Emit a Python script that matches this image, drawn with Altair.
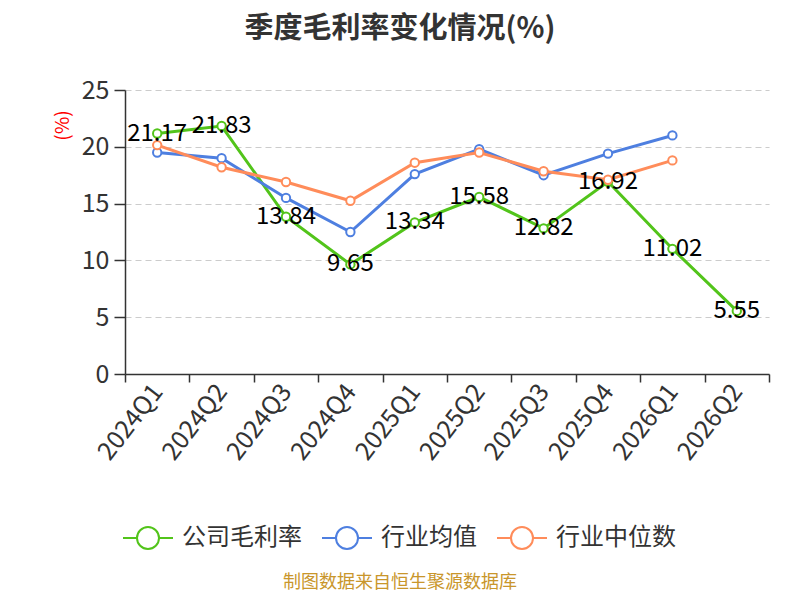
import altair as alt
import pandas as pd

quarters = ["2024Q1", "2024Q2", "2024Q3", "2024Q4", "2025Q1", "2025Q2",
            "2025Q3", "2025Q4", "2026Q1", "2026Q2"]
company = [21.17, 21.83, 13.84, 9.65, 13.34, 15.58, 12.82, 16.92, 11.02, 5.55]
ind_mean = [19.5, 19.0, 15.5, 12.5, 17.6, 19.8, 17.5, 19.4, 21.0]
ind_median = [20.15, 18.2, 16.9, 15.25, 18.6, 19.5, 17.85, 17.1, 18.8]
series_names = ["公司毛利率", "行业均值", "行业中位数"]
colors = ["#52C41A", "#4E7FE0", "#FF8C5A"]
title_text = "季度毛利率变化情况(%)"
footer_text = "制图数据来自恒生聚源数据库"

rows = []
for name, vals in zip(series_names, [company, ind_mean, ind_median]):
    for q, v in zip(quarters, vals):
        rows.append({"quarter": q, "value": v, "series": name})
df = pd.DataFrame(rows)
df_company = pd.DataFrame({"quarter": quarters, "value": company,
                           "label": [f"{v:.2f}" for v in company]})

FONT = "Noto Sans CJK SC"

x_enc = alt.X("quarter:N", sort=quarters,
              scale=alt.Scale(type="band", paddingInner=0, paddingOuter=0),
              axis=alt.Axis(title=None, tickBand="extent", labelAngle=-52,
                            labelAlign="right", labelBaseline="middle",
                            labelFontSize=25, labelColor="#333333", labelFont=FONT,
                            labelPadding=5, tickSize=8, tickColor="#333333",
                            domainColor="#333333", domainWidth=1.5, tickWidth=1.5,
                            grid=False))
y_enc = alt.Y("value:Q", scale=alt.Scale(domain=[0, 25], nice=False),
              axis=alt.Axis(title="(%)", titleColor="red", titleFontSize=19,
                            titleFont=FONT, titleFontWeight="normal",
                            titleX=-63, titleY=35, titleAlign="center",
                            titleBaseline="middle", titleAngle=-90,
                            values=[0, 5, 10, 15, 20, 25],
                            labelFontSize=25, labelColor="#333333", labelFont=FONT,
                            labelPadding=5, tickSize=11, tickColor="#333333",
                            tickWidth=1.5, domainColor="#333333", domainWidth=1.5,
                            grid=True, gridColor="#cccccc", gridDash=[6, 4],
                            gridWidth=1.2))

legend_symbol = ("M-1,0 L-0.44,0 M0.44,0 L1,0 "
                 "M-0.44,0 A0.44,0.44 0 1,0 0.44,0 A0.44,0.44 0 1,0 -0.44,0 Z")

lines = alt.Chart(df).mark_line(
    strokeWidth=3,
    point=alt.OverlayMarkDef(filled=False, fill="white", size=70, strokeWidth=2,
                             opacity=1),
).encode(
    x=x_enc,
    y=y_enc,
    color=alt.Color("series:N", sort=series_names,
                    scale=alt.Scale(domain=series_names, range=colors),
                    legend=alt.Legend(title=None, orient="none", direction="horizontal",
                                      legendX=-3, legendY=422,
                                      symbolType=legend_symbol, symbolSize=2500,
                                      symbolStrokeWidth=2, symbolFillColor="white",
                                      labelFontSize=24, labelColor="#333333",
                                      labelFont=FONT, labelOffset=8,
                                      columnPadding=16)),
)

labels = alt.Chart(df_company).mark_text(
    fontSize=24, font=FONT, color="black", align="center", baseline="middle"
).encode(
    x=alt.X("quarter:N", sort=quarters),
    y="value:Q",
    text="label:N",
)

footer = alt.Chart(pd.DataFrame({"t": [footer_text]})).mark_text(
    fontSize=18, font=FONT, color="#C9962B", align="center", baseline="middle"
).encode(
    x=alt.value(275), y=alt.value(493), text="t:N"
)

chart = alt.layer(lines, labels, footer).properties(
    width=644, height=284,
    autosize=alt.AutoSizeParams(type="none"),
    padding={"left": 117, "top": 82, "right": 23, "bottom": 218},
    title=alt.TitleParams(title_text, fontSize=29, font=FONT, fontWeight="bold",
                          color="#333333", anchor="middle", frame="group",
                          dx=-47, offset=34),
).configure(background="white", view=alt.ViewConfig(stroke=None))

chart.save("out.html", embed_options={"renderer": "svg", "actions": False})
